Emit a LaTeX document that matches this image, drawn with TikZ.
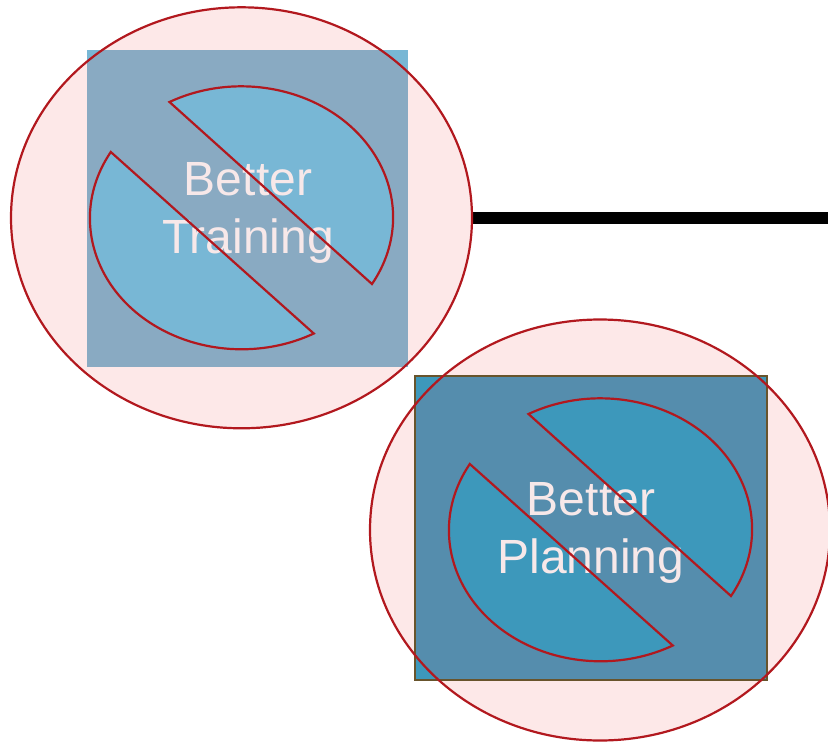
\documentclass[tikz,border=0pt]{standalone}
\usepackage{fontspec}
\setmainfont{Liberation Sans}
\usetikzlibrary{shapes.geometric}
\definecolor{ringred}{RGB}{178,24,30}
\definecolor{ringfill}{RGB}{253,232,232}
\definecolor{paleback}{RGB}{137,170,194}
\definecolor{palepart}{RGB}{120,183,213}
\definecolor{darkback}{RGB}{85,141,173}
\definecolor{darkpart}{RGB}{61,152,187}
\definecolor{darkedge}{RGB}{104,84,44}
\tikzset{x=1pt,y=-1pt,
	ring/.style={ellipse, fill=ringfill, inner sep=0pt, minimum width=461pt, minimum height=421pt},
	redline/.style={draw=ringred, line width=2.2pt, line join=miter},
	goal/.style={text=white!90!ringred, font=\fontsize{48}{58}\selectfont, align=center}}
\newcommand{\upperpart}{(169.5, 102) arc[start angle=-118.3, end angle=30.6, x radius=151.7, y radius=131] -- cycle}
\newcommand{\lowerpart}{(110.8, 152) arc[start angle=210.4, end angle=61.6, x radius=151.7, y radius=131] -- cycle}
\begin{document}
\begin{tikzpicture}
	\useasboundingbox (0, 0) rectangle (828, 742);

	% rings and link
	\node[ring] (toptarget) at (241.5, 217.8) {};
	\node[ring] (bottomtarget) at (600, 530) {};
	\coordinate (linkend) at (828, 217.8);
	\draw[line width=12pt] (toptarget.east) -- (linkend);

	% top
	\fill[palepart] (87, 50) rectangle (408, 367);
	\begin{scope}
		\clip (241.5, 217.8) ellipse (230.5 and 210.5);
		\fill[paleback] (87, 50) rectangle (408, 367);
	\end{scope}
	\draw[redline] (241.5, 217.8) ellipse (230.5 and 210.5);
	\fill[palepart] \upperpart;
	\fill[palepart] \lowerpart;
	\node[goal] (training) at (248, 213) {Better\\Training};
	\draw[redline] \upperpart;
	\draw[redline] \lowerpart;

	% bottom
	\fill[darkpart] (415, 376) rectangle (767, 680);
	\begin{scope}
		\clip (600, 530) ellipse (230 and 210.5);
		\fill[darkback] (415, 376) rectangle (767, 680);
	\end{scope}
	\draw[darkedge, line width=2pt] (415, 376) rectangle (767, 680);
	\draw[redline] (600, 530) ellipse (230 and 210.5);
	\begin{scope}[shift={(359, 312)}]
		\fill[darkpart] \upperpart;
		\fill[darkpart] \lowerpart;
		\node[goal] (planning) at (232, 221) {Better\\Planning};
		\draw[redline] \upperpart;
		\draw[redline] \lowerpart;
	\end{scope}
\end{tikzpicture}
\end{document}
